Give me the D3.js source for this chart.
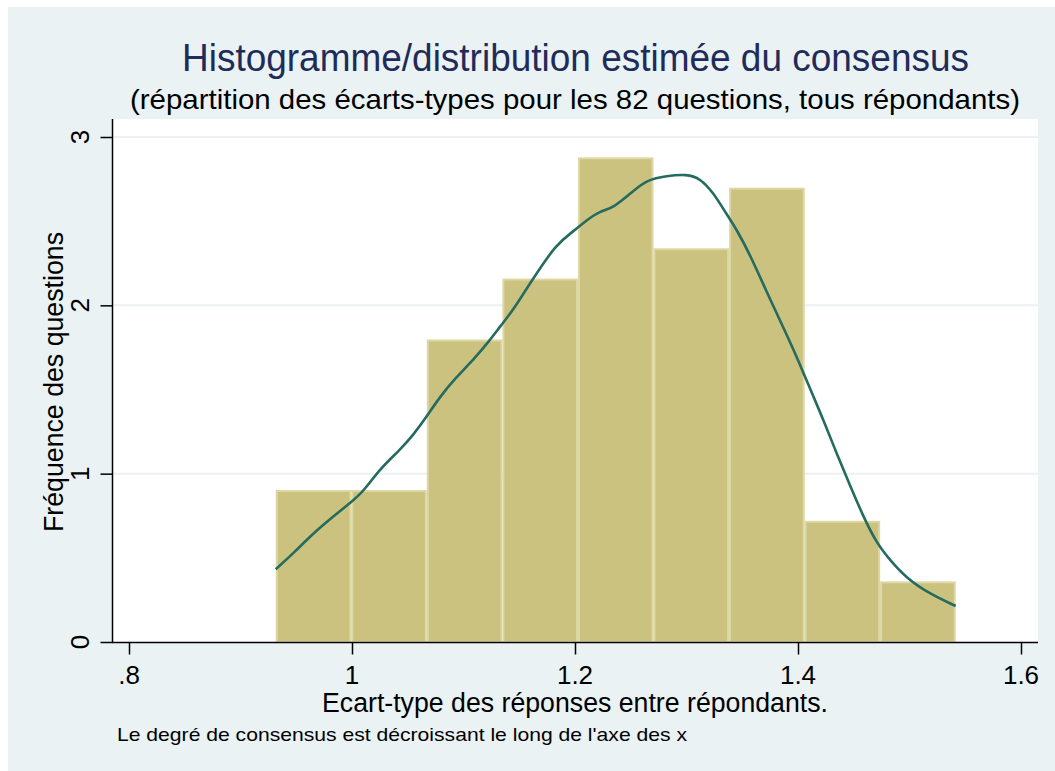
<!DOCTYPE html>
<html>
<head>
<meta charset="utf-8">
<script src="https://cdn.jsdelivr.net/npm/d3@7"></script>
<style>
  body { margin: 0; background: #fff; }
  svg { display: block; font-family: "Liberation Sans", Arial, sans-serif; }
</style>
</head>
<body>
<div id="chart"></div>
<script>
// histogram bins (bin edges) and density heights
const binEdges = [0.9316, 0.9994, 1.0671, 1.1349, 1.2027, 1.2704, 1.3382, 1.4060, 1.4737, 1.5415];
const binDensity = [0.903, 0.903, 1.797, 2.159, 2.879, 2.339, 2.699, 0.720, 0.360];

// kernel density estimate
const kdeX = [0.9316, 0.9474, 0.9653, 0.9832, 0.9997, 1.0101, 1.0251, 1.0430, 1.0550, 1.0670,
              1.0789, 1.0939, 1.1088, 1.1238, 1.1327, 1.1447, 1.1596, 1.1836, 1.1985, 1.2105,
              1.2224, 1.2343, 1.2523, 1.2643, 1.2822, 1.3002, 1.3121, 1.3240, 1.3361, 1.3450,
              1.3570, 1.3719, 1.3839, 1.3958, 1.4048, 1.4137, 1.4227, 1.4347, 1.4466, 1.4586,
              1.4706, 1.4825, 1.4975, 1.5184, 1.5414];
const kdeY = [0.432, 0.527, 0.646, 0.745, 0.834, 0.893, 1.030, 1.141, 1.230, 1.339,
              1.458, 1.576, 1.676, 1.794, 1.873, 1.973, 2.131, 2.369, 2.438, 2.507,
              2.560, 2.577, 2.680, 2.745, 2.769, 2.779, 2.755, 2.670, 2.540, 2.450,
              2.300, 2.080, 1.910, 1.740, 1.600, 1.460, 1.320, 1.120, 0.930, 0.745,
              0.586, 0.487, 0.378, 0.285, 0.214];

const xTicks = [0.8, 1, 1.2, 1.4, 1.6];
const xTickLabels = ['.8', '1', '1.2', '1.4', '1.6'];
const yTicks = [0, 1, 2, 3];

const W = 1055, H = 771;
const plot = { left: 113, right: 1038, top: 119, bottom: 642 };

const svg = d3.select('#chart').append('svg')
    .attr('width', W)
    .attr('height', H);

svg.append('rect')
    .attr('x', 8).attr('y', 7)
    .attr('width', W - 8).attr('height', H - 7)
    .attr('fill', '#eaf2f3');

svg.append('rect')
    .attr('x', plot.left).attr('y', plot.top)
    .attr('width', plot.right - plot.left).attr('height', plot.bottom - plot.top)
    .attr('fill', '#ffffff');

const x = d3.scaleLinear().domain([0.8, 1.6]).range([129, 1021]);
const y = d3.scaleLinear().domain([0, 3]).range([642, 137]);

// gridlines
svg.append('g').selectAll('line')
    .data(yTicks.filter(d => d > 0))
    .enter().append('line')
    .attr('x1', plot.left).attr('x2', plot.right)
    .attr('y1', d => y(d)).attr('y2', d => y(d))
    .attr('stroke', '#eaf2f3')
    .attr('stroke-width', 2);

// bars
const bars = binDensity.map((v, i) => ({ x0: binEdges[i], x1: binEdges[i + 1], v: v }));
svg.append('g').selectAll('rect')
    .data(bars)
    .enter().append('rect')
    .attr('x', d => x(d.x0) + 1)
    .attr('y', d => y(d.v) + 1)
    .attr('width', d => x(d.x1) - x(d.x0) - 2)
    .attr('height', d => y(0) - y(d.v) - 1)
    .attr('fill', '#cac27e')
    .attr('stroke', '#ddd7a3')
    .attr('stroke-width', 2);

// density curve
const line = d3.line()
    .x(d => x(d[0]))
    .y(d => y(d[1]))
    .curve(d3.curveBasis);

svg.append('path')
    .datum(kdeX.map((v, i) => [v, kdeY[i]]))
    .attr('d', line)
    .attr('fill', 'none')
    .attr('stroke', '#256b5f')
    .attr('stroke-width', 2.6)
    .attr('stroke-linejoin', 'round');

// axes
const yAxis = svg.append('g')
    .attr('transform', `translate(${plot.left - 0.5},0)`)
    .call(d3.axisLeft(y).tickValues(yTicks).tickSize(12).tickFormat(''));
yAxis.select('.domain').attr('d', `M0,${plot.top}V${plot.bottom + 0.5}`)
    .attr('stroke', '#000').attr('stroke-width', 1.5);
yAxis.selectAll('.tick line').attr('stroke', '#000').attr('stroke-width', 1.5);

const xAxis = svg.append('g')
    .attr('transform', `translate(0,${plot.bottom + 0.5})`)
    .call(d3.axisBottom(x).tickValues(xTicks).tickSize(12).tickFormat(''));
xAxis.select('.domain').attr('d', `M${plot.left - 1},0H${plot.right}`)
    .attr('stroke', '#000').attr('stroke-width', 1.5);
xAxis.selectAll('.tick line').attr('stroke', '#000').attr('stroke-width', 1.5);

// tick labels
svg.append('g').selectAll('text')
    .data(xTicks)
    .enter().append('text')
    .attr('x', d => x(d))
    .attr('y', 684)
    .attr('text-anchor', 'middle')
    .attr('font-size', 26)
    .attr('fill', '#000')
    .text((d, i) => xTickLabels[i]);

svg.append('g').selectAll('text')
    .data(yTicks)
    .enter().append('text')
    .attr('transform', d => `translate(89,${y(d)}) rotate(-90)`)
    .attr('text-anchor', 'middle')
    .attr('font-size', 26)
    .attr('fill', '#000')
    .text(d => d);

// titles
svg.append('text')
    .attr('x', 575.5).attr('y', 71)
    .attr('text-anchor', 'middle')
    .attr('font-size', 38)
    .attr('fill', '#1f2c5a')
    .attr('textLength', 787)
    .attr('lengthAdjust', 'spacingAndGlyphs')
    .text('Histogramme/distribution estimée du consensus');

svg.append('text')
    .attr('x', 575).attr('y', 109)
    .attr('text-anchor', 'middle')
    .attr('font-size', 28)
    .attr('fill', '#000')
    .attr('textLength', 890)
    .attr('lengthAdjust', 'spacingAndGlyphs')
    .text('(répartition des écarts-types pour les 82 questions, tous répondants)');

svg.append('text')
    .attr('x', 575).attr('y', 712)
    .attr('text-anchor', 'middle')
    .attr('font-size', 27)
    .attr('fill', '#000')
    .attr('textLength', 506)
    .attr('lengthAdjust', 'spacingAndGlyphs')
    .text('Ecart-type des réponses entre répondants.');

svg.append('text')
    .attr('transform', 'translate(63,382) rotate(-90)')
    .attr('text-anchor', 'middle')
    .attr('font-size', 27)
    .attr('fill', '#000')
    .attr('textLength', 300)
    .attr('lengthAdjust', 'spacingAndGlyphs')
    .text('Fréquence des questions');

svg.append('text')
    .attr('x', 117).attr('y', 741)
    .attr('font-size', 19)
    .attr('fill', '#000')
    .attr('textLength', 570)
    .attr('lengthAdjust', 'spacingAndGlyphs')
    .text("Le degré de consensus est décroissant le long de l'axe des x");
</script>
</body>
</html>
